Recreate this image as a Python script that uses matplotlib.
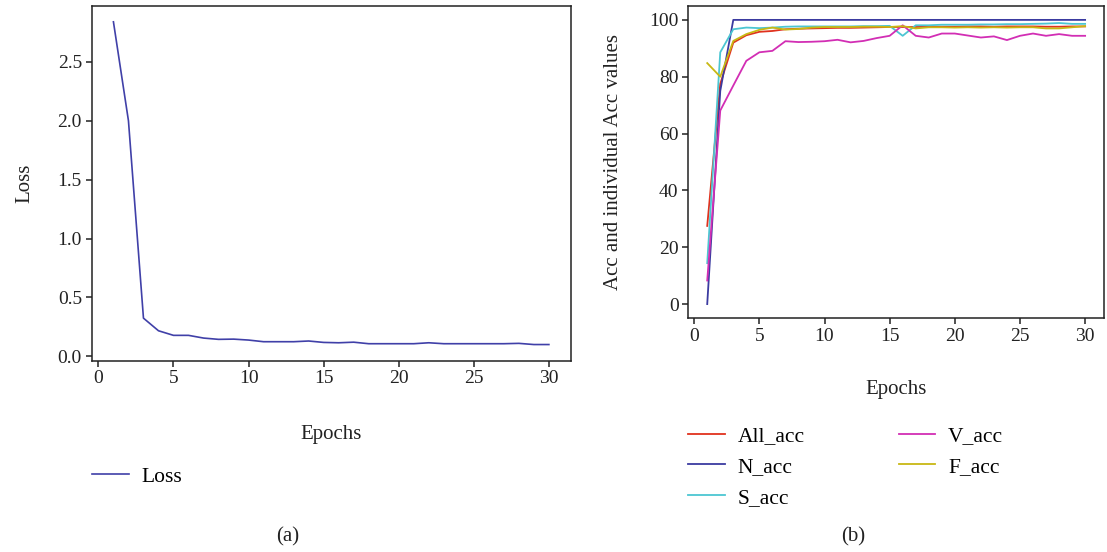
import numpy as np
import matplotlib
matplotlib.use("Agg")
import matplotlib.pyplot as plt

plt.rcParams['font.family'] = ['Liberation Serif', 'DejaVu Serif']

epochs = list(range(1, 31))

loss = [2.84, 2.00, 0.324, 0.217, 0.178, 0.178, 0.155, 0.144, 0.146, 0.138,
        0.124, 0.124, 0.124, 0.130, 0.118, 0.115, 0.120, 0.107, 0.107, 0.107,
        0.107, 0.115, 0.107, 0.107, 0.107, 0.107, 0.107, 0.110, 0.100, 0.100]

all_acc = [27.5, 77.5, 92.0, 94.6, 95.8, 96.1, 96.7, 96.9, 97.0, 97.1,
           97.2, 97.2, 97.3, 97.4, 97.5, 97.5, 97.5, 97.6, 97.6, 97.6,
           97.7, 97.7, 97.6, 97.7, 97.7, 97.7, 97.6, 97.6, 97.7, 97.7]
n_acc = [0.0, 75.0, 100.0, 100.0, 100.0, 100.0, 100.0, 100.0, 100.0, 100.0,
         100.0, 100.0, 100.0, 100.0, 100.0, 100.0, 100.0, 100.0, 100.0, 100.0,
         100.0, 100.0, 100.0, 100.0, 100.0, 100.0, 100.0, 100.0, 100.0, 100.0]
s_acc = [14.4, 88.6, 96.7, 97.3, 97.1, 97.3, 97.6, 97.7, 97.7, 97.7,
         97.7, 97.7, 97.8, 97.8, 97.9, 94.4, 98.1, 98.1, 98.3, 98.3,
         98.3, 98.4, 98.4, 98.5, 98.5, 98.6, 98.7, 98.9, 98.6, 98.6]
v_acc = [8.3, 68.1, 76.9, 85.6, 88.6, 89.1, 92.5, 92.2, 92.3, 92.5,
         93.0, 92.1, 92.6, 93.6, 94.4, 98.1, 94.4, 93.8, 95.2, 95.2,
         94.5, 93.8, 94.2, 92.9, 94.4, 95.2, 94.4, 95.0, 94.4, 94.4]
f_acc = [84.8, 80.0, 92.6, 95.0, 96.5, 97.3, 96.6, 96.8, 97.3, 97.5,
         97.5, 97.5, 97.6, 97.6, 97.5, 97.8, 97.0, 97.4, 97.4, 97.3,
         97.4, 97.3, 97.4, 97.3, 97.4, 97.4, 97.0, 97.0, 97.4, 97.8]

acc_series = [("All_acc", all_acc, "#e0321e"),
              ("N_acc", n_acc, "#3b3ba0"),
              ("S_acc", s_acc, "#4cc6d2"),
              ("V_acc", v_acc, "#d22eb4"),
              ("F_acc", f_acc, "#c8b814")]

fig = plt.figure(figsize=(11.07, 5.52), dpi=100)
ax1 = fig.add_axes([0.0828, 0.3466, 0.4327, 0.6431])
ax2 = fig.add_axes([0.6218, 0.4234, 0.3755, 0.5663])

ax1.plot(epochs, loss, color="#4040a8", lw=1.2, label="Loss")

for name, vals, col in acc_series:
    ax2.plot(epochs, vals, color=col, lw=1.3, label=name)

for ax in (ax1, ax2):
    for s in ax.spines.values():
        s.set_color("#222222")
        s.set_linewidth(1.1)
    ax.tick_params(direction="out", length=4, width=1.1, labelsize=14,
                   colors="#222222", pad=3)
    ax.set_xticks([0, 5, 10, 15, 20, 25, 30])

ax1.set_yticks([0.0, 0.5, 1.0, 1.5, 2.0, 2.5])
ax1.set_yticklabels(["0.0", "0.5", "1.0", "1.5", "2.0", "2.5"])
ax2.set_yticks([0, 20, 40, 60, 80, 100])

ax1.set_xlabel("Epochs", fontsize=15, color="#222222")
ax1.set_ylabel("Loss", fontsize=15, color="#222222")
ax1.xaxis.set_label_coords(0.5, -0.182)
ax1.yaxis.set_label_coords(-0.119, 0.5)

ax2.set_xlabel("Epochs", fontsize=15, color="#222222")
ax2.set_ylabel("Acc and individual Acc values", fontsize=15, color="#222222")
ax2.xaxis.set_label_coords(0.5, -0.198)
ax2.yaxis.set_label_coords(-0.157, 0.5)

fig.legend(handles=ax1.get_lines(), loc="center left",
           bbox_to_anchor=(0.0831, 1 - 477 / 552), frameon=False,
           fontsize=15.5, handlelength=1.7, handletextpad=0.6,
           borderpad=0, borderaxespad=0)
fig.legend(handles=ax2.get_lines(), loc="center left", ncol=2,
           bbox_to_anchor=(0.6215, 1 - 467 / 552), frameon=False,
           fontsize=15.5, handlelength=1.7, handletextpad=0.6,
           columnspacing=4.37, labelspacing=0.5,
           borderpad=0, borderaxespad=0)

fig.text(288 / 1107, 1 - 537 / 552, "(a)", fontsize=15, ha="center",
         va="center", color="#222222")
fig.text(853 / 1107, 1 - 537 / 552, "(b)", fontsize=15, ha="center",
         va="center", color="#222222")

fig.savefig("out.png", dpi=100)
